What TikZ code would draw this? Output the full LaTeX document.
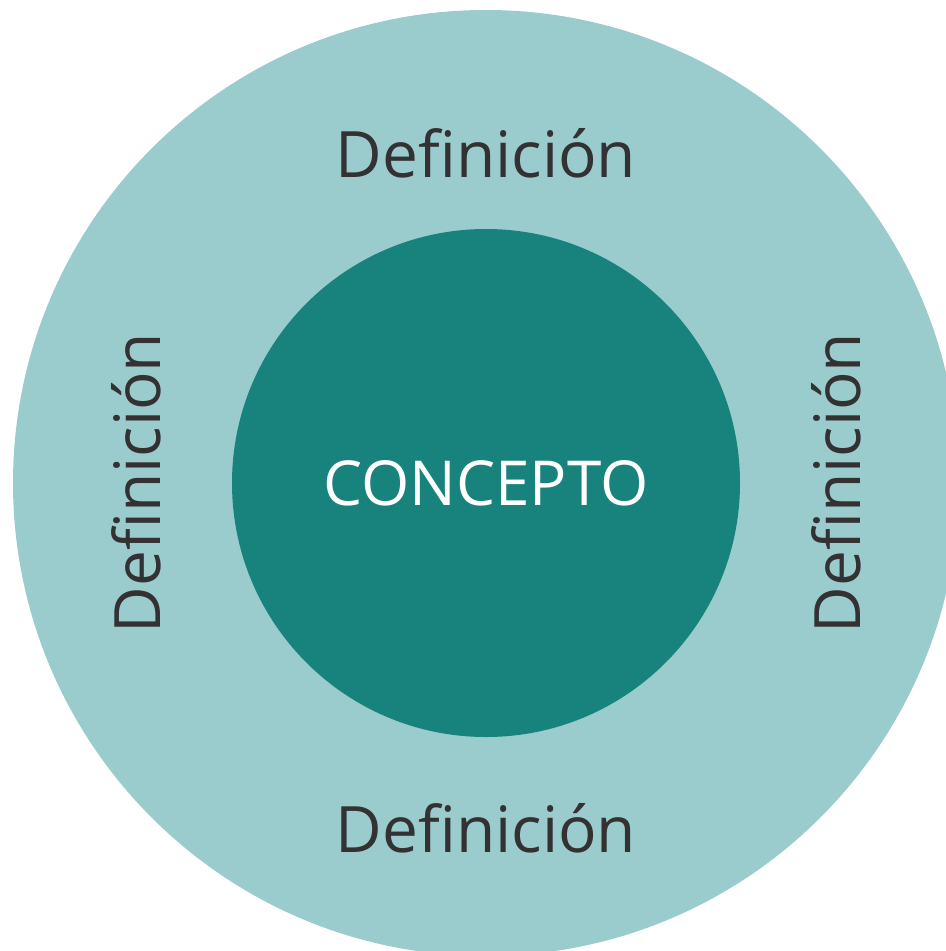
\documentclass[tikz,border=0pt]{standalone}
\usepackage{fontspec}
\setmainfont{Open Sans}
\usetikzlibrary{positioning}

\definecolor{ringcol}{HTML}{9ACCCD}
\definecolor{corecol}{HTML}{17837C}
\definecolor{textcol}{HTML}{333132}

\begin{document}
\begin{tikzpicture}[x=0.75pt,y=-0.75pt,
  defn/.style={text=textcol, font=\fontsize{48}{50}\selectfont, anchor=base, inner sep=0pt},
  core/.style={text=white, font=\fontsize{46.5}{48}\selectfont, anchor=base, inner sep=0pt}]
\def\cx{486}
\def\cy{483}
\def\ro{473}
\def\ri{254}

\useasboundingbox (0,0) rectangle (946,951);

\begin{scope}
\clip (0,0) rectangle (946,951);
\fill[ringcol] (\cx,\cy) circle (\ro);
\fill[corecol] (\cx,\cy) circle (\ri);
\end{scope}

\node[core] (concepto) at (\cx, 505) {CONCEPTO};

\node[defn] (top) at (\cx, 177) {Definición};
\node[defn] (bottom) at (\cx, 852) {Definición};
\node[defn, rotate=90] (left) at (160, \cy) {Definición};
\node[defn, rotate=90] (right) at (860, \cy) {Definición};

\end{tikzpicture}
\end{document}
